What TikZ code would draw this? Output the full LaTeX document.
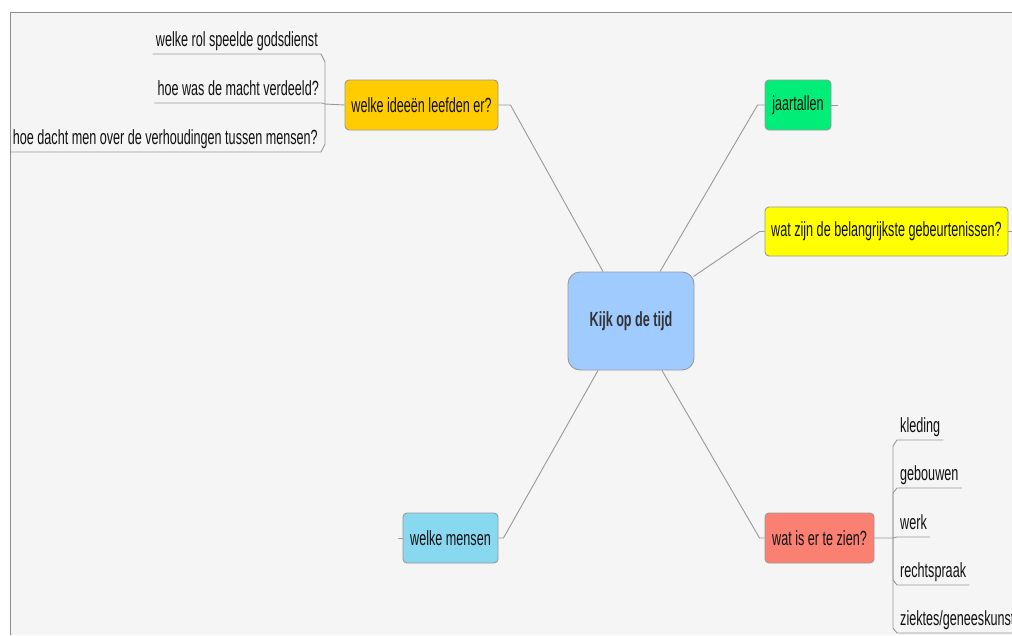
\documentclass[tikz,border=0pt]{standalone}
\usepackage{fontspec}
\setmainfont{Liberation Sans}[FakeStretch=0.615]
\definecolor{bgc}{HTML}{F5F5F5}
\definecolor{framec}{HTML}{8C8C8C}
\definecolor{linec}{HTML}{999999}
\definecolor{cblue}{HTML}{A0CBFF}
\definecolor{corange}{HTML}{FFCC00}
\definecolor{cgreen}{HTML}{00EE77}
\definecolor{cyellow}{HTML}{FFFF00}
\definecolor{csalmon}{HTML}{FA8072}
\definecolor{ccyan}{HTML}{88D8F0}
\definecolor{txt}{HTML}{111111}
\definecolor{ctxt}{HTML}{333333}
\begin{document}
\begin{tikzpicture}[x=1pt,y=-1pt,
  topic/.style={draw=linec, line width=0.9pt, rounded corners=4pt, minimum height=50pt, inner sep=0pt, font=\fontsize{20.5}{23}\selectfont, text=txt},
  sub/.style={inner xsep=3pt, inner ysep=3pt, text height=15pt, text depth=4pt, font=\fontsize{20.5}{23}\selectfont, text=txt},
  conn/.style={draw=linec, line width=0.9pt}]
\useasboundingbox (0,0) rectangle (1012,635);
\clip (0,0) rectangle (1012,635);
\fill[white] (0,0) rectangle (1012,635);
\fill[bgc] (10,12) rectangle (1012,635);
\draw[framec, line width=0.8pt] (10,635) -- (10,12) -- (1012,12);

% main topics
\node[topic, fill=cblue, minimum width=126pt, minimum height=98pt, rounded corners=12pt, font=\fontsize{20.5}{23}\selectfont\bfseries, text=ctxt] (c) at (631,321) {Kijk op de tijd};
\node[topic, fill=corange, minimum width=153pt] (ide) at (421.5,105) {welke ideeën leefden er?};
\node[topic, fill=cgreen, minimum width=66pt] (jaar) at (798,105) {jaartallen};
\node[topic, fill=cyellow, minimum width=243pt, minimum height=49pt] (geb) at (886.5,231.5) {wat zijn de belangrijkste gebeurtenissen?};
\node[topic, fill=csalmon, minimum width=109pt] (zien) at (819.5,538) {wat is er te zien?};
\node[topic, fill=ccyan, minimum width=95pt] (men) at (450.5,538) {welke mensen};

% connectors from the centre
\draw[conn] ([shift={(-28,0)}]c.north) -- ([shift={(12,0)}]ide.east) -- (ide.east);
\draw[conn] ([shift={(29,0)}]c.north) -- ([shift={(-7,0)}]jaar.west) -- (jaar.west);
\draw[conn] ([shift={(-1,5)}]c.north east) -- ([shift={(-5,0)}]geb.west) -- (geb.west);
\draw[conn] ([shift={(31,0)}]c.south) -- ([shift={(-5,0)}]zien.west) -- (zien.west);
\draw[conn] ([shift={(-33,0)}]c.south) -- ([shift={(5,0)}]men.east) -- (men.east);

% collapsed stubs
\coordinate (js) at (838,105);
\coordinate (gs) at (1014,231.5);
\coordinate (ms) at (398,538);
\draw[conn] (jaar.east) -- (js);
\draw[conn] (geb.east) -- (gs);
\draw[conn] (men.west) -- (ms);

% left children
\coordinate (lj) at (325,104);
\node[sub, anchor=south east] (l1) at (321,54) {welke rol speelde godsdienst};
\node[sub, anchor=south east] (l2) at (322,103) {hoe was de macht verdeeld?};
\node[sub, anchor=south east] (l3) at (321,152) {hoe dacht men over de verhoudingen tussen mensen?};
\draw[conn] (ide.west) -- (lj) -- (l2.south east) -- (l2.south west);
\draw[conn] (lj) -- ++(0,-42) -- (l1.south east) -- (l1.south west);
\draw[conn] (lj) -- ++(0,40) -- (l3.south east) -- (l3.south west);

% right children
\coordinate (rj) at (893,538);
\node[sub, anchor=south west] (r1) at (897,440) {kleding};
\node[sub, anchor=south west] (r2) at (897,488) {gebouwen};
\node[sub, anchor=south west] (r3) at (897,537) {werk};
\node[sub, anchor=south west] (r4) at (897,585) {rechtspraak};
\node[sub, anchor=south west] (r5) at (897,633) {ziektes/geneeskunst};
\draw[conn] (zien.east) -- (rj) -- (r3.south west) -- (r3.south east);
\draw[conn] (rj) -- (893,446) -- (r1.south west) -- (r1.south east);
\draw[conn] (rj) -- (893,493) -- (r2.south west) -- (r2.south east);
\draw[conn] (rj) -- (893,580) -- (r4.south west) -- (r4.south east);
\draw[conn] (rj) -- (893,628) -- (r5.south west) -- (r5.south east);
\end{tikzpicture}
\end{document}
